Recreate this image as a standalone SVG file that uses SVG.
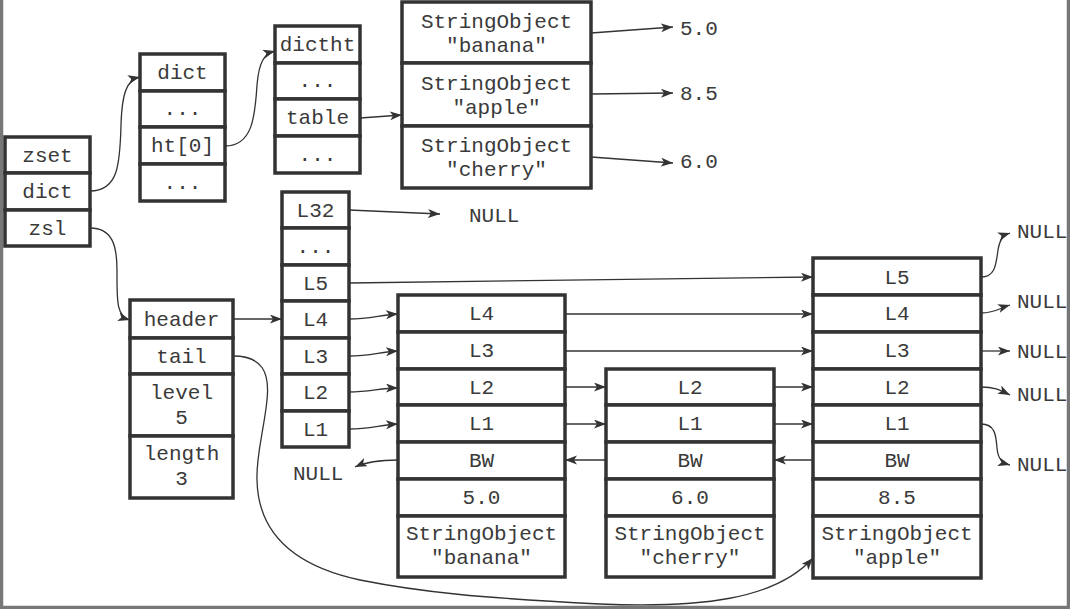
<svg xmlns="http://www.w3.org/2000/svg" width="1070" height="609" viewBox="0 0 1070 609">
<defs>
<marker id="ah" markerUnits="userSpaceOnUse" markerWidth="14" markerHeight="10" refX="12" refY="4.5" orient="auto">
<path d="M0,0 L12,4.5 L0,9 L3,4.5 z" fill="#333"/>
</marker>
<style>
.c{fill:#fff;stroke:#333;stroke-width:3.5}
.t{font-family:"Liberation Mono","Courier New",monospace;font-size:21px;fill:#3a3a3a;text-anchor:middle}
.l{font-family:"Liberation Mono","Courier New",monospace;font-size:21px;fill:#3a3a3a}
.k{fill:none;stroke:#333;stroke-width:1.3;marker-end:url(#ah)}
.f{fill:none;stroke:#777;stroke-width:3.5}
</style>
</defs>
<rect width="1070" height="609" fill="#fff"/>
<path class="f" d="M1.5,0 V607.5 H1068.5 V0"/>

<g id="zset">
<rect class="c" x="5" y="137" width="85" height="36"/>
<rect class="c" x="5" y="173" width="85" height="37"/>
<rect class="c" x="5" y="210" width="85" height="36"/>
<text class="t" x="47.5" y="162">zset</text>
<text class="t" x="47.5" y="198">dict</text>
<text class="t" x="47.5" y="235">zsl</text>
</g>

<g id="dict">
<rect class="c" x="140" y="54" width="85" height="37"/>
<rect class="c" x="140" y="91" width="85" height="36"/>
<rect class="c" x="140" y="127" width="85" height="37"/>
<rect class="c" x="140" y="164" width="85" height="37"/>
<text class="t" x="182.5" y="79">dict</text>
<text class="t" x="182.5" y="115">...</text>
<text class="t" x="182.5" y="152">ht[0]</text>
<text class="t" x="182.5" y="189">...</text>
</g>

<g id="dictht">
<rect class="c" x="275" y="26" width="85" height="37"/>
<rect class="c" x="275" y="63" width="85" height="36"/>
<rect class="c" x="275" y="99" width="85" height="37"/>
<rect class="c" x="275" y="136" width="85" height="37"/>
<text class="t" x="317.5" y="51">dictht</text>
<text class="t" x="317.5" y="87">...</text>
<text class="t" x="317.5" y="124">table</text>
<text class="t" x="317.5" y="161">...</text>
</g>

<g id="entries">
<rect class="c" x="402" y="2" width="189" height="61"/>
<rect class="c" x="402" y="63" width="189" height="63"/>
<rect class="c" x="402" y="126" width="189" height="62"/>
<text class="t" x="496.5" y="28">StringObject</text>
<text class="t" x="496.5" y="52">"banana"</text>
<text class="t" x="496.5" y="90">StringObject</text>
<text class="t" x="496.5" y="114">"apple"</text>
<text class="t" x="496.5" y="152">StringObject</text>
<text class="t" x="496.5" y="176">"cherry"</text>
</g>

<g id="scores">
<text class="l" x="680" y="35">5.0</text>
<text class="l" x="680" y="100">8.5</text>
<text class="l" x="680" y="168">6.0</text>
</g>

<g id="zskiplist">
<rect class="c" x="130" y="300" width="103" height="38"/>
<rect class="c" x="130" y="338" width="103" height="36"/>
<rect class="c" x="130" y="374" width="103" height="62"/>
<rect class="c" x="130" y="436" width="103" height="62"/>
<text class="t" x="181.5" y="326">header</text>
<text class="t" x="181.5" y="363">tail</text>
<text class="t" x="181.5" y="399">level</text>
<text class="t" x="181.5" y="424">5</text>
<text class="t" x="181.5" y="460">length</text>
<text class="t" x="181.5" y="485">3</text>
</g>

<g id="header-node">
<rect class="c" x="282" y="192" width="67" height="36"/>
<rect class="c" x="282" y="228" width="67" height="37"/>
<rect class="c" x="282" y="265" width="67" height="36"/>
<rect class="c" x="282" y="301" width="67" height="37"/>
<rect class="c" x="282" y="338" width="67" height="36"/>
<rect class="c" x="282" y="374" width="67" height="37"/>
<rect class="c" x="282" y="411" width="67" height="36"/>
<text class="t" x="315.5" y="217">L32</text>
<text class="t" x="315.5" y="253">...</text>
<text class="t" x="315.5" y="290">L5</text>
<text class="t" x="315.5" y="326">L4</text>
<text class="t" x="315.5" y="363">L3</text>
<text class="t" x="315.5" y="399">L2</text>
<text class="t" x="315.5" y="436">L1</text>
</g>

<g id="node-banana">
<rect class="c" x="398" y="295" width="167" height="37"/>
<rect class="c" x="398" y="332" width="167" height="37"/>
<rect class="c" x="398" y="369" width="167" height="36"/>
<rect class="c" x="398" y="405" width="167" height="37"/>
<rect class="c" x="398" y="442" width="167" height="37"/>
<rect class="c" x="398" y="479" width="167" height="37"/>
<rect class="c" x="398" y="516" width="167" height="61"/>
<text class="t" x="481.5" y="320">L4</text>
<text class="t" x="481.5" y="357">L3</text>
<text class="t" x="481.5" y="394">L2</text>
<text class="t" x="481.5" y="430">L1</text>
<text class="t" x="481.5" y="467">BW</text>
<text class="t" x="481.5" y="504">5.0</text>
<text class="t" x="481.5" y="540">StringObject</text>
<text class="t" x="481.5" y="564">"banana"</text>
</g>

<g id="node-cherry">
<rect class="c" x="606" y="369" width="168" height="36"/>
<rect class="c" x="606" y="405" width="168" height="37"/>
<rect class="c" x="606" y="442" width="168" height="37"/>
<rect class="c" x="606" y="479" width="168" height="37"/>
<rect class="c" x="606" y="516" width="168" height="61"/>
<text class="t" x="690" y="394">L2</text>
<text class="t" x="690" y="430">L1</text>
<text class="t" x="690" y="467">BW</text>
<text class="t" x="690" y="504">6.0</text>
<text class="t" x="690" y="540">StringObject</text>
<text class="t" x="690" y="564">"cherry"</text>
</g>

<g id="node-apple">
<rect class="c" x="813" y="258" width="168" height="37"/>
<rect class="c" x="813" y="295" width="168" height="37"/>
<rect class="c" x="813" y="332" width="168" height="37"/>
<rect class="c" x="813" y="369" width="168" height="36"/>
<rect class="c" x="813" y="405" width="168" height="37"/>
<rect class="c" x="813" y="442" width="168" height="37"/>
<rect class="c" x="813" y="479" width="168" height="37"/>
<rect class="c" x="813" y="516" width="168" height="62"/>
<text class="t" x="897" y="284">L5</text>
<text class="t" x="897" y="320">L4</text>
<text class="t" x="897" y="357">L3</text>
<text class="t" x="897" y="394">L2</text>
<text class="t" x="897" y="430">L1</text>
<text class="t" x="897" y="467">BW</text>
<text class="t" x="897" y="504">8.5</text>
<text class="t" x="897" y="540">StringObject</text>
<text class="t" x="897" y="564">"apple"</text>
</g>

<g id="nulls">
<text class="l" x="469" y="222">NULL</text>
<text class="l" x="293" y="480">NULL</text>
<text class="l" x="1017" y="238">NULL</text>
<text class="l" x="1017" y="308">NULL</text>
<text class="l" x="1017" y="358">NULL</text>
<text class="l" x="1017" y="401">NULL</text>
<text class="l" x="1017" y="471">NULL</text>
</g>

<g id="connectors">
<path class="k" d="M90,191 C118,191 120,165 121,125 C122,92 127,80 140,77"/>
<path class="k" d="M225,146 C252,146 255,118 257,85 C259,62 264,54 275,51"/>
<path class="k" d="M360,118 L402,115"/>
<path class="k" d="M591,33 L673,27"/>
<path class="k" d="M591,94 L673,93"/>
<path class="k" d="M591,157 L673,163"/>
<path class="k" d="M90,228 C112,228 117,245 117,270 C117,300 116,316 130,320"/>
<path class="k" d="M233,319 L282,319"/>
<path class="k" d="M349,210 L440,214"/>
<path class="k" d="M349,283 L813,277"/>
<path class="k" d="M349,319 C370,319 380,315 398,314"/>
<path class="k" d="M349,356 C370,356 380,352 398,351"/>
<path class="k" d="M349,392 C370,392 380,388 398,388"/>
<path class="k" d="M349,429 C370,429 380,425 398,424"/>
<path class="k" d="M398,460 C380,460 366,462 355,467"/>
<path class="k" d="M565,314 L813,314"/>
<path class="k" d="M565,351 L813,351"/>
<path class="k" d="M565,387 L606,387"/>
<path class="k" d="M565,424 L606,424"/>
<path class="k" d="M606,460 L565,460"/>
<path class="k" d="M774,387 L813,387"/>
<path class="k" d="M774,424 L813,424"/>
<path class="k" d="M813,460 L774,460"/>
<path class="k" d="M981,277 C995,277 996,265 998,250 C1000,238 1004,235 1010,233"/>
<path class="k" d="M981,313 C995,313 1000,308 1010,305"/>
<path class="k" d="M981,351 L1010,351"/>
<path class="k" d="M981,387 C995,387 1000,390 1010,395"/>
<path class="k" d="M981,424 C995,424 996,435 997,448 C998,460 1003,463 1010,465"/>
<path class="k" d="M233,356 C262,356 270,372 267,400 C264,430 256,455 257,480 C258,530 290,565 360,580 C420,592 480,598 600,604 C700,608 775,600 813,558"/>
</g>
</svg>
